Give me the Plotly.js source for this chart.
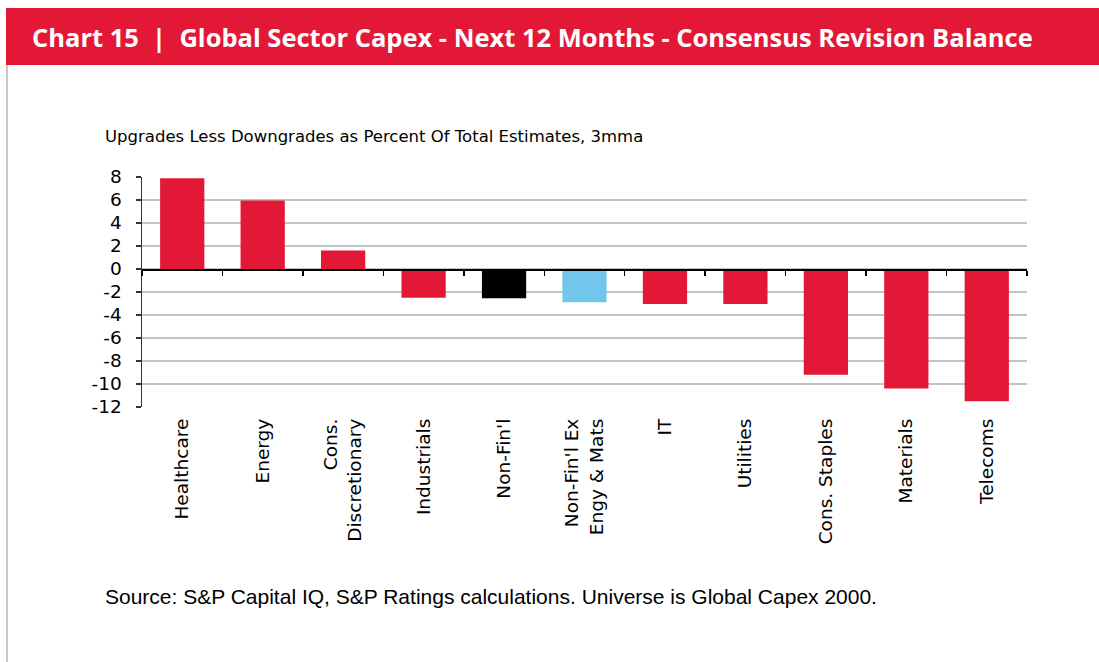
<!DOCTYPE html>
<html>
<head>
<meta charset="utf-8">
<script src="https://cdn.plot.ly/plotly-3.0.1.min.js"></script>
<style>
  html, body { margin: 0; padding: 0; background: #ffffff; }
  #chart { width: 1099px; height: 662px; }
</style>
</head>
<body>
<div id="chart"></div>
<script>
// ---- Data ----
const categories = [
  "Healthcare", "Energy", "Cons.<br>Discretionary", "Industrials", "Non-Fin'l",
  "Non-Fin'l Ex<br>Engy & Mats", "IT", "Utilities", "Cons. Staples", "Materials", "Telecoms"
];
const revisionBalance = [7.9, 5.95, 1.6, -2.5, -2.55, -2.9, -3.05, -3.05, -9.2, -10.4, -11.5];
const barColors = ["#E31837", "#E31837", "#E31837", "#E31837", "#000000",
                   "#73C6EB", "#E31837", "#E31837", "#E31837", "#E31837", "#E31837"];
const yTickValues = [8, 6, 4, 2, 0, -2, -4, -6, -8, -10, -12];
const yTickLabels = ["8", "6", "4", "2", "0", "-2", "-4", "-6", "-8", "-10", "-12"];

const titleText = "Chart 15  |  Global Sector Capex - Next 12 Months - Consensus Revision Balance";
const subtitleText = "Upgrades Less Downgrades as Percent Of Total Estimates, 3mma";
const sourceText = "Source: S&P Capital IQ, S&P Ratings calculations. Universe is Global Capex 2000.";

// ---- Layout geometry (pixels) ----
const W = 1099, H = 662;
const plotL = 142, plotR = 1027, plotT = 177, plotB = 407;
const px = x => (x - plotL) / (plotR - plotL);
const py = y => (plotB - y) / (plotB - plotT);
const yMin = -12, yMax = 8;
const zeroPos = (0 - yMin) / (yMax - yMin);

const traces = [
  {
    type: "bar",
    x: categories,
    y: revisionBalance,
    marker: { color: barColors, line: { width: 0 } },
    xaxis: "x",
    yaxis: "y",
    hoverinfo: "x+y"
  },
  {
    type: "bar",
    x: categories,
    y: categories.map(() => null),
    xaxis: "x2",
    yaxis: "y",
    showlegend: false,
    hoverinfo: "skip"
  }
];

const layout = {
  width: W,
  height: H,
  margin: { l: plotL, r: W - plotR, t: plotT, b: H - plotB, pad: 0 },
  paper_bgcolor: "#ffffff",
  plot_bgcolor: "#ffffff",
  showlegend: false,
  bargap: 0.45,
  barmode: "overlay",
  font: { family: "DejaVu Sans, Liberation Sans, sans-serif", color: "#000000" },
  xaxis: {
    type: "category",
    showgrid: false,
    showline: false,
    zeroline: false,
    ticks: "",
    tickangle: -90,
    tickfont: { size: 18.5, family: "DejaVu Sans, Liberation Sans, sans-serif", color: "#000" },
    ticklabelstandoff: 7,
    fixedrange: true
  },
  xaxis2: {
    type: "category",
    overlaying: "x",
    matches: "x",
    anchor: "free",
    position: zeroPos,
    showline: true,
    linecolor: "#000000",
    linewidth: 1.5,
    ticks: "outside",
    tickson: "boundaries",
    ticklen: 5,
    tickwidth: 1.5,
    tickcolor: "#000000",
    showticklabels: false,
    showgrid: false,
    zeroline: false,
    fixedrange: true
  },
  yaxis: {
    range: [yMin, yMax],
    tickvals: yTickValues,
    ticktext: yTickLabels,
    showgrid: true,
    gridcolor: "#c4c4c4",
    gridwidth: 1.5,
    zeroline: false,
    showline: true,
    linecolor: "#333333",
    linewidth: 1.5,
    ticks: "outside",
    ticklen: 5,
    tickwidth: 1.5,
    tickcolor: "#333333",
    tickfont: { size: 18.5, family: "DejaVu Sans, Liberation Sans, sans-serif", color: "#000" },
    ticklabelstandoff: 10,
    fixedrange: true
  },
  shapes: [
    {
      type: "rect", xref: "paper", yref: "paper",
      x0: px(6), x1: px(W), y0: py(65), y1: py(8),
      fillcolor: "#E31837", line: { width: 0 }, layer: "below"
    },
    {
      type: "line", xref: "paper", yref: "paper",
      x0: px(7), x1: px(7), y0: py(65), y1: py(H),
      line: { color: "#c8c8c8", width: 2 }
    }
  ],
  annotations: [
    {
      text: titleText, xref: "paper", yref: "paper",
      x: px(30), y: py(37), xanchor: "left", yanchor: "middle",
      showarrow: false,
      font: { family: "Open Sans, Liberation Sans, sans-serif", size: 25.5, color: "#ffffff", weight: "bold" }
    },
    {
      text: subtitleText, xref: "paper", yref: "paper",
      x: px(103), y: py(137), xanchor: "left", yanchor: "middle",
      showarrow: false,
      font: { family: "DejaVu Sans, sans-serif", size: 16.5, color: "#000000" }
    },
    {
      text: sourceText, xref: "paper", yref: "paper",
      x: px(103), y: py(596), xanchor: "left", yanchor: "middle",
      showarrow: false,
      font: { family: "Liberation Sans, Arial, sans-serif", size: 21, color: "#000000" }
    }
  ]
};

Plotly.newPlot("chart", traces, layout, { displayModeBar: false, staticPlot: true });
</script>
</body>
</html>
